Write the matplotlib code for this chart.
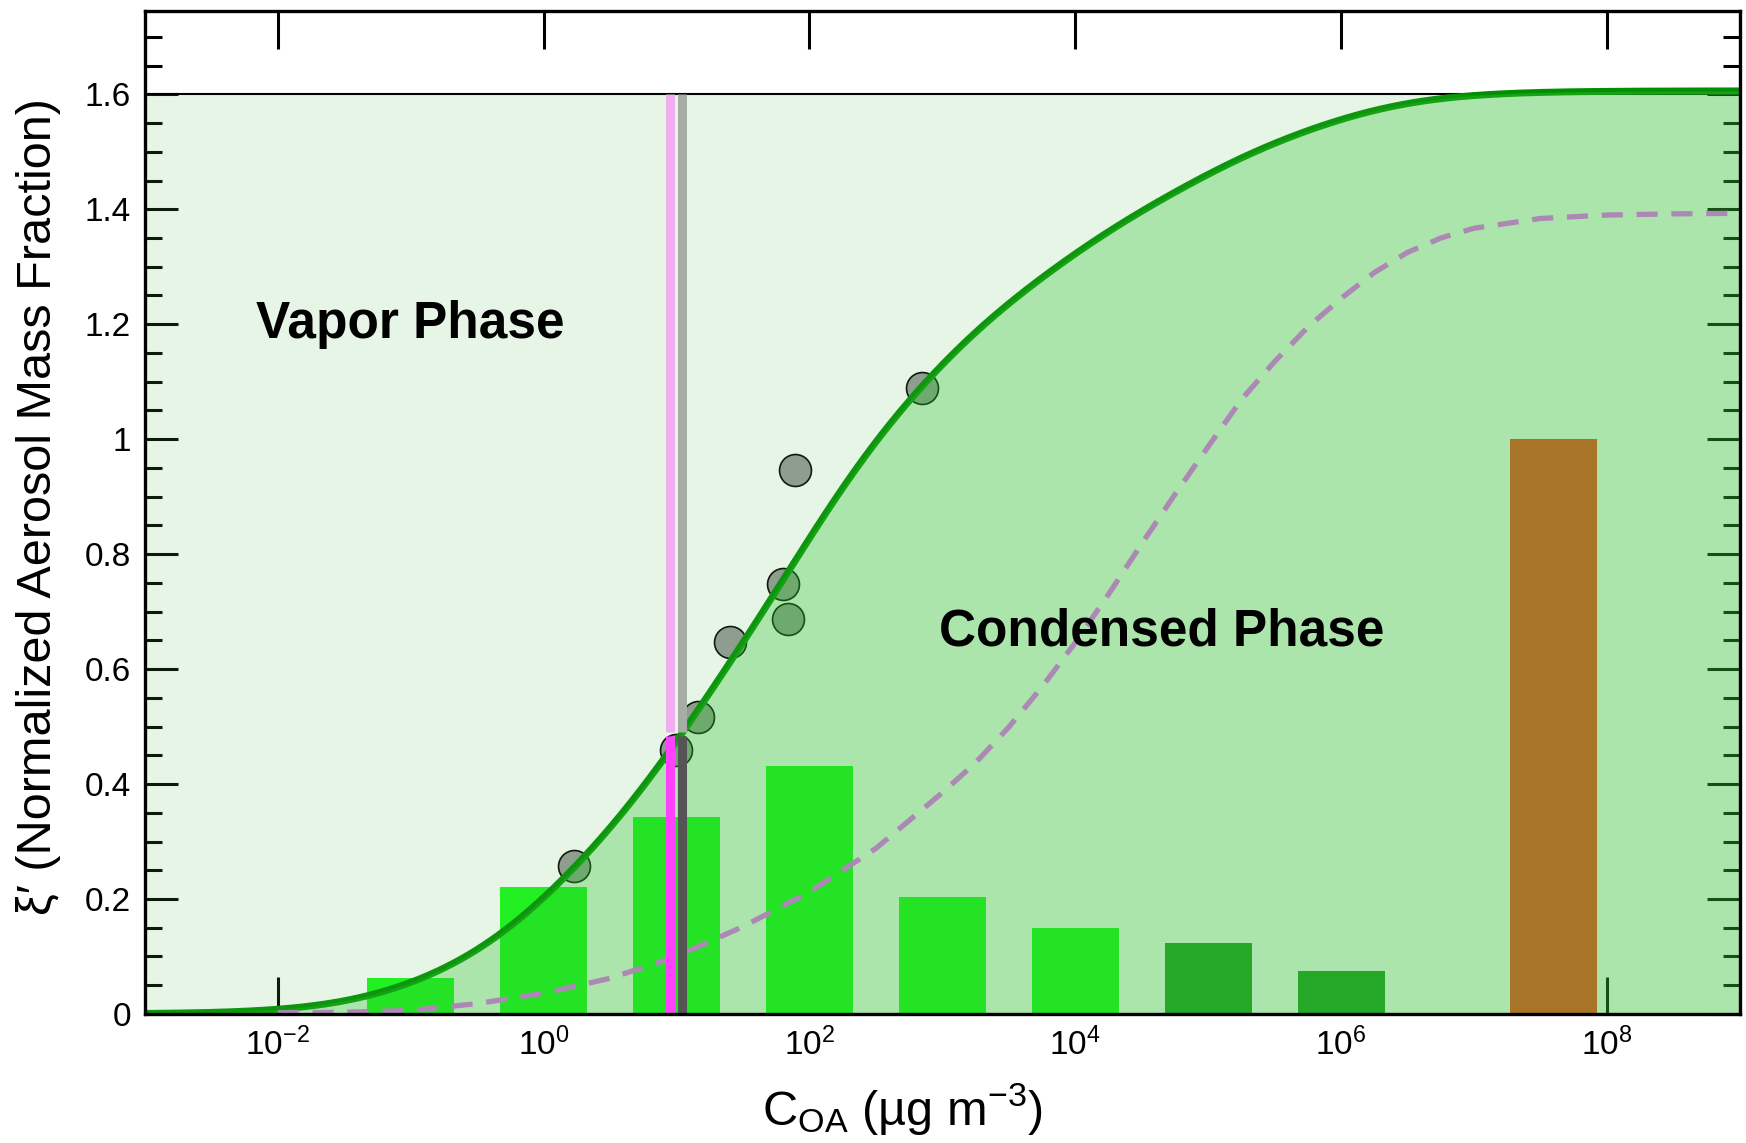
import numpy as np
import matplotlib
matplotlib.use("Agg")
import matplotlib.pyplot as plt
from matplotlib.ticker import FixedLocator, MultipleLocator, NullLocator, FuncFormatter

plt.rcParams["font.family"] = ["Liberation Sans", "DejaVu Sans"]
plt.rcParams["mathtext.fontset"] = "custom"
plt.rcParams["mathtext.rm"] = "Liberation Sans"
plt.rcParams["mathtext.it"] = "Liberation Sans:italic"
plt.rcParams["mathtext.bf"] = "Liberation Sans:bold"

# Volatility basis set: log10 C* of each bin and its normalized mass
bin_log_cstar = [-1, 0, 1, 2, 3, 4, 5, 6]
bin_mass = [0.062, 0.221, 0.342, 0.431, 0.203, 0.149, 0.124, 0.074]
bin_colors = ["#19fa19"] * 6 + ["#1c9620"] * 2

# Separate reference bin
ref_log_cstar = 7.6
ref_mass = 1.0
ref_color = "#f93e20"

# Measured aerosol mass fractions
obs_log_coa = [0.23, 1.00, 1.16, 1.40, 1.80, 1.84, 1.89, 2.85]
obs_xi = [0.258, 0.459, 0.517, 0.647, 0.748, 0.688, 0.947, 1.089]

# Second partitioning curve (dashed)
alt_log_coa = [-2.0, -1.5, -1.0, -0.5, 0.0, 0.5, 1.0, 1.5, 2.0, 2.5,
               3.0, 3.25, 3.5, 3.75, 4.0, 4.25, 4.5, 4.75, 5.0, 5.25,
               5.5, 5.75, 6.0, 6.25, 6.5, 6.75, 7.0, 7.5, 8.0, 8.5, 9.0]
alt_xi = [0.002, 0.003, 0.006, 0.018, 0.036, 0.062, 0.100, 0.152, 0.212, 0.288,
          0.385, 0.437, 0.499, 0.569, 0.646, 0.730, 0.818, 0.904, 0.987, 1.069,
          1.135, 1.195, 1.245, 1.290, 1.325, 1.350, 1.367, 1.384, 1.390, 1.392, 1.393]

# Marked organic aerosol concentrations (µg m-3)
mark_coa = [8.9, 11.1]
mark_level = 0.484

xi_max = 1.6

fig = plt.figure(figsize=(17.46, 11.43), dpi=100)
ax = fig.add_axes([0.0829, 0.1129, 0.9136, 0.8775])
ax.set_xscale("log")
ax.set_xlim(1e-3, 1e9)
ax.set_ylim(0, 1.745)
ax.set_axisbelow(True)

# bins as bars, width in decades
half_w = 0.327
for lc, m, col in zip(bin_log_cstar, bin_mass, bin_colors):
    left, right = 10 ** (lc - half_w), 10 ** (lc + half_w)
    ax.bar(left, m, width=right - left, align="edge", color=col, lw=0, zorder=1)
left, right = 10 ** (ref_log_cstar - half_w), 10 ** (ref_log_cstar + half_w)
ax.bar(left, ref_mass, width=right - left, align="edge", color=ref_color, lw=0, zorder=1)

ax.scatter(10 ** np.array(obs_log_coa), obs_xi, s=23 ** 2, c="#989898",
           edgecolors="black", linewidths=1.2, zorder=1.2)

# equilibrium partitioning of the bins
coa = np.logspace(-3, 9, 1500)
cstar = 10.0 ** np.array(bin_log_cstar)
xi = np.sum(np.array(bin_mass)[:, None] / (1 + cstar[:, None] / coa[None, :]), axis=0)

ax.axhline(xi_max, color="black", lw=1.5, zorder=1.5)
ax.plot(coa, xi, color="#008f00", lw=5, zorder=2, solid_capstyle="butt")

# vapor and condensed regions
ax.fill_between(coa, np.minimum(xi, xi_max), xi_max, color=(88 / 255, 188 / 255, 88 / 255),
                alpha=0.15, lw=0, zorder=3)
ax.fill_between(coa, 0, xi, color=(52 / 255, 194 / 255, 52 / 255),
                alpha=0.41, lw=0, zorder=3)

ax.plot(10 ** np.array(alt_log_coa), alt_xi, color="#ad88b6", lw=3.8,
        dashes=(4.0, 2.6), zorder=4)

# marked concentrations
for c, upper, lower in zip(mark_coa, ["#f0aef0", "#a5ada5"], ["#ff40ff", "#555555"]):
    ax.plot([c, c], [mark_level + 0.006, xi_max], color=upper, lw=6.5,
            solid_capstyle="butt", zorder=4.5)
    ax.plot([c, c], [0, mark_level], color=lower, lw=6.5,
            solid_capstyle="butt", zorder=4.6)

ax.text(10 ** -1, 1.20, "Vapor Phase", fontsize=37, fontweight="bold",
        ha="center", va="center", zorder=7)
ax.text(10 ** 4.65, 0.665, "Condensed Phase", fontsize=37, fontweight="bold",
        ha="center", va="center", zorder=7)

# axes styling
for sp in ax.spines.values():
    sp.set_linewidth(2.4)
    sp.set_zorder(6)

ax.xaxis.set_major_locator(FixedLocator([10.0 ** k for k in range(-2, 9, 2)]))
ax.xaxis.set_minor_locator(NullLocator())
ax.xaxis.set_major_formatter(FuncFormatter(lambda v, p: r"$10^{%d}$" % round(np.log10(v))))
ax.yaxis.set_major_locator(MultipleLocator(0.2))
ax.yaxis.set_minor_locator(MultipleLocator(0.05))
ax.yaxis.set_major_formatter(FuncFormatter(lambda v, p: "%g" % round(v, 2) if v <= 1.61 else ""))

ax.tick_params(which="both", direction="in", top=True, right=True, width=2.2,
               labelsize=24)
ax.tick_params(axis="x", which="major", length=27, pad=10)
ax.tick_params(axis="y", which="major", length=24, pad=10)
ax.tick_params(axis="y", which="minor", length=12)

fig.text(0.5167, 0.0157, r"C$_{\mathrm{OA}}$ (µg m$^{-3}$)", fontsize=35,
         ha="center", va="baseline")
fig.text(0.0223, 0.557, "ξ′ (Normalized Aerosol Mass Fraction)", fontsize=35,
         rotation=90, ha="center", va="center")

fig.savefig("out.png", dpi=100)
